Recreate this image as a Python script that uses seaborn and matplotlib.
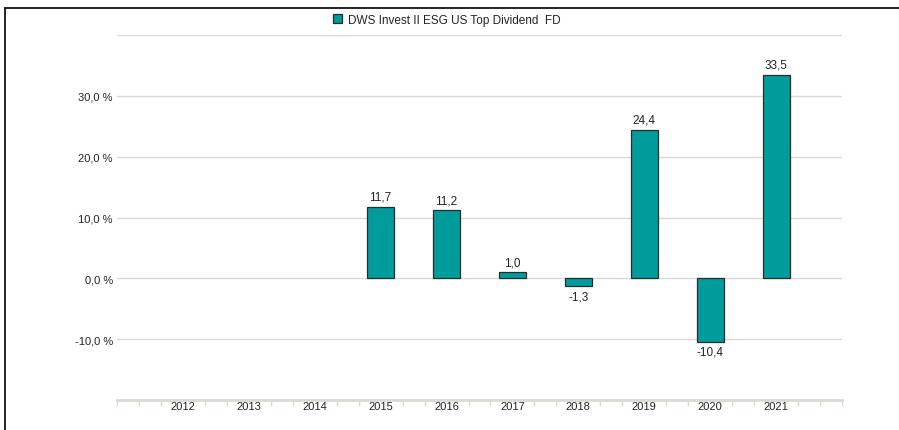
import matplotlib
matplotlib.use('Agg')
import matplotlib.pyplot as plt
from matplotlib.lines import Line2D
from matplotlib.ticker import FixedLocator
import numpy as np
import pandas as pd
import seaborn as sns

# Data
years = ['2012', '2013', '2014', '2015', '2016', '2017', '2018', '2019', '2020', '2021']
returns = [np.nan, np.nan, np.nan, 11.7, 11.2, 1.0, -1.3, 24.4, -10.4, 33.5]
series_name = 'DWS Invest II ESG US Top Dividend  FD'
y_ticks = [-20, -10, 0, 10, 20, 30, 40]

df = pd.DataFrame({'year': years, 'value': returns})

sns.set_style('white')
plt.rcParams['font.family'] = ['Liberation Sans', 'DejaVu Sans']

teal = '#009b9b'
edge = '#2b2b2b'
grid_col = '#dcd9d2'
text_col = '#222222'

fig = plt.figure(figsize=(8.99, 4.31), dpi=100)
ax = fig.add_axes([117 / 899, 1 - 401 / 431, (842 - 117) / 899, (401 - 36) / 431])

sns.barplot(data=df.dropna(), x='year', y='value', order=years, color=teal,
            edgecolor=edge, linewidth=0.9, width=0.41, saturation=1, ax=ax)

# value labels
for i, v in enumerate(returns):
    if np.isnan(v):
        continue
    txt = f'{v:.1f}'.replace('.', ',')
    if v >= 0:
        ax.annotate(txt, (i, v), xytext=(0, 3), textcoords='offset points',
                    ha='center', va='bottom', fontsize=8.5, color=text_col)
    else:
        ax.annotate(txt, (i, v), xytext=(0, -3), textcoords='offset points',
                    ha='center', va='top', fontsize=8.5, color=text_col)

ax.set_xlim(-1, len(years))
ax.set_ylim(-20, 40)

ax.set_yticks(y_ticks)
ax.set_yticklabels(['' if t in (-20, 40) else f'{t:.1f} %'.replace('.', ',') for t in y_ticks])
ax.yaxis.grid(True, color=grid_col, linewidth=1)
ax.set_axisbelow(True)
ax.tick_params(axis='y', length=0, pad=3, labelsize=8, labelcolor=text_col)

minor = [k / 3 - 1 for k in range(0, 3 * (len(years) + 1) + 1) if k % 3 != 0 or k in (0, 3 * (len(years) + 1))]
ax.xaxis.set_minor_locator(FixedLocator(minor))
ax.tick_params(axis='x', which='major', bottom=True, length=0, pad=1, labelsize=8, labelcolor=text_col)
ax.tick_params(axis='x', which='minor', bottom=True, length=4, width=1, color=grid_col, direction='out')

ax.set_xlabel('')
ax.set_ylabel('')
for s in ['top', 'right', 'left']:
    ax.spines[s].set_visible(False)
ax.spines['bottom'].set_color(grid_col)
ax.spines['bottom'].set_linewidth(2)

# legend
handle = plt.Rectangle((0, 0), 1, 1, facecolor=teal, edgecolor=edge, linewidth=0.9)
fig.legend([handle], [series_name], loc='center', bbox_to_anchor=(0.497, 1 - 21 / 431),
           frameon=False, fontsize=8.5, handlelength=0.8, handleheight=0.8,
           handletextpad=0.5, labelcolor=text_col)

# frame lines
fig.add_artist(Line2D([5 / 899, 1], [1 - 9 / 431, 1 - 9 / 431], color='black', linewidth=1.2))
fig.add_artist(Line2D([5 / 899, 5 / 899], [0, 1 - 9 / 431], color='black', linewidth=1.2))

fig.savefig('out.png', dpi=100)
